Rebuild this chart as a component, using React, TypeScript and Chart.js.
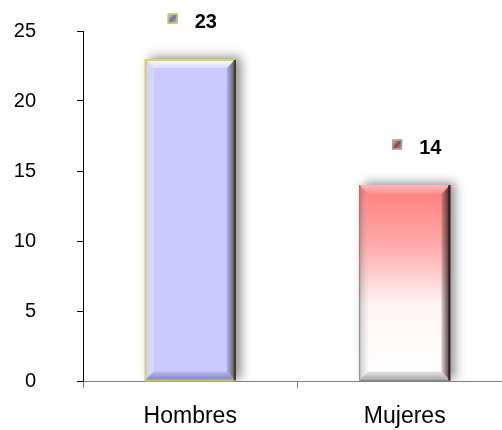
import React, { useEffect, useRef } from "react";
import { Chart, registerables } from "chart.js";

Chart.register(...registerables);

const categories = ["Hombres", "Mujeres"];
const values = [23, 14];
const yTicks = [0, 5, 10, 15, 20, 25];

const FONT = "'Liberation Sans', Arial, Helvetica, sans-serif";

const shadowPlugin = {
  id: "barShadow",
  beforeDatasetsDraw(chart: any) {
    const ctx = chart.ctx;
    ctx.save();
    ctx.shadowColor = "rgba(0,0,0,0.45)";
    ctx.shadowBlur = 10;
    ctx.shadowOffsetX = 5;
    ctx.shadowOffsetY = -2;
  },
  afterDatasetsDraw(chart: any) {
    chart.ctx.restore();
  },
};

function poly(ctx: CanvasRenderingContext2D, pts: number[][], fill: any) {
  ctx.beginPath();
  ctx.moveTo(pts[0][0], pts[0][1]);
  for (let i = 1; i < pts.length; i++) ctx.lineTo(pts[i][0], pts[i][1]);
  ctx.closePath();
  ctx.fillStyle = fill;
  ctx.fill();
}

const bevelPlugin = {
  id: "bevel",
  afterDatasetsDraw(chart: any) {
    const ctx: CanvasRenderingContext2D = chart.ctx;
    const meta = chart.getDatasetMeta(0);
    meta.data.forEach((bar: any, i: number) => {
      const w = bar.width;
      const l = bar.x - w / 2;
      const r = bar.x + w / 2;
      const t = bar.y;
      const b = bar.base;
      const bv = 9;
      ctx.save();
      let g = ctx.createLinearGradient(0, t, 0, t + bv);
      g.addColorStop(0, i === 0 ? "rgba(255,255,255,0.95)" : "rgba(255,255,255,0.45)");
      g.addColorStop(1, i === 0 ? "rgba(255,255,255,0.35)" : "rgba(255,255,255,0.1)");
      poly(ctx, [[l, t], [r, t], [r - bv, t + bv], [l + bv, t + bv]], g);
      g = ctx.createLinearGradient(l, 0, l + bv, 0);
      if (i === 0) {
        g.addColorStop(0, "rgba(255,255,255,0.1)");
        g.addColorStop(1, "rgba(255,255,255,0.3)");
      } else {
        g.addColorStop(0, "rgba(90,90,90,0.35)");
        g.addColorStop(1, "rgba(200,200,200,0.1)");
      }
      poly(ctx, [[l, t], [l + bv, t + bv], [l + bv, b - bv], [l, b]], g);
      g = ctx.createLinearGradient(r - bv, 0, r, 0);
      if (i === 0) {
        g.addColorStop(0, "rgba(90,90,160,0.25)");
        g.addColorStop(1, "rgba(50,50,20,0.85)");
      } else {
        g.addColorStop(0, "rgba(80,40,40,0.2)");
        g.addColorStop(1, "rgba(40,20,20,0.9)");
      }
      poly(ctx, [[r, t], [r, b], [r - bv, b - bv], [r - bv, t + bv]], g);
      g = ctx.createLinearGradient(0, b - bv, 0, b);
      if (i === 0) {
        g.addColorStop(0, "rgba(80,80,150,0.15)");
        g.addColorStop(1, "rgba(70,70,130,0.55)");
      } else {
        g.addColorStop(0, "rgba(90,90,90,0.15)");
        g.addColorStop(1, "rgba(90,90,90,0.55)");
      }
      poly(ctx, [[l, b], [l + bv, b - bv], [r - bv, b - bv], [r, b]], g);
      ctx.lineWidth = 2;
      if (i === 0) {
        ctx.strokeStyle = "#D6D65A";
        ctx.beginPath();
        ctx.moveTo(l + 1, b);
        ctx.lineTo(l + 1, t + 1);
        ctx.lineTo(r - 1, t + 1);
        ctx.stroke();
        ctx.strokeStyle = "#C8C86A";
        ctx.beginPath();
        ctx.moveTo(l, b);
        ctx.lineTo(r, b);
        ctx.stroke();
        ctx.strokeStyle = "#3E3E18";
        ctx.beginPath();
        ctx.moveTo(r - 1, t + 1);
        ctx.lineTo(r - 1, b);
        ctx.stroke();
      } else {
        ctx.strokeStyle = "rgba(120,120,120,0.8)";
        ctx.lineWidth = 1;
        ctx.beginPath();
        ctx.moveTo(l + 0.5, t);
        ctx.lineTo(l + 0.5, b);
        ctx.lineTo(r, b);
        ctx.stroke();
        ctx.strokeStyle = "#3A2020";
        ctx.lineWidth = 2;
        ctx.beginPath();
        ctx.moveTo(r - 1, t);
        ctx.lineTo(r - 1, b);
        ctx.stroke();
      }
      ctx.restore();
    });
  },
};

const labelOffsetX = [2, 12];

const labelPlugin = {
  id: "valueLabels",
  afterDatasetsDraw(chart: any) {
    const ctx: CanvasRenderingContext2D = chart.ctx;
    const meta = chart.getDatasetMeta(0);
    const data = chart.data.datasets[0].data;
    meta.data.forEach((bar: any, i: number) => {
      const text = String(data[i]);
      ctx.save();
      ctx.font = `bold 20px ${FONT}`;
      const tw = ctx.measureText(text).width;
      const icon = 10;
      const gap = 17;
      const total = icon + gap + tw;
      const sx = bar.x + labelOffsetX[i] - total / 2;
      const cy = bar.y - 37.5;
      const ix = sx;
      const iy = cy - icon / 2 - 3;
      const g = ctx.createLinearGradient(ix, iy, ix + icon, iy + icon);
      if (i === 0) {
        g.addColorStop(0, "#E8E8FF");
        g.addColorStop(0.5, "#7070A0");
        g.addColorStop(1, "#C8CAFF");
      } else {
        g.addColorStop(0, "#FFE0E0");
        g.addColorStop(0.5, "#904040");
        g.addColorStop(1, "#FF9090");
      }
      ctx.fillStyle = g;
      ctx.fillRect(ix, iy, icon, icon);
      ctx.lineWidth = 1.5;
      ctx.strokeStyle = i === 0 ? "#C8C840" : "#A0A0A0";
      ctx.strokeRect(ix + 0.75, iy + 0.75, icon - 1.5, icon - 1.5);
      ctx.fillStyle = "#000";
      ctx.textAlign = "left";
      ctx.textBaseline = "middle";
      ctx.fillText(text, sx + icon + gap, cy + 1);
      ctx.restore();
    });
  },
};

export default function App() {
  const ref = useRef<HTMLCanvasElement>(null);
  useEffect(() => {
    if (!ref.current) return;
    Chart.defaults.font.family = FONT;
    const chart = new Chart(ref.current, {
      type: "bar",
      data: {
        labels: categories,
        datasets: [
          {
            data: values,
            barPercentage: 0.425,
            categoryPercentage: 1,
            borderWidth: 0,
            backgroundColor: (c: any) => {
              const idx = c.dataIndex;
              if (idx === 0) return "#C8CAFF";
              const ch = c.chart;
              const ys = ch.scales && ch.scales.y;
              if (!ys) return "#FF8080";
              const top = ys.getPixelForValue(values[idx]);
              const base = ys.getPixelForValue(0);
              const g = ch.ctx.createLinearGradient(0, top, 0, base);
              g.addColorStop(0, "#FF7C7C");
              g.addColorStop(0.3, "#FFA8A8");
              g.addColorStop(0.62, "#FFF6F6");
              g.addColorStop(1, "#FFFFFF");
              return g;
            },
          },
        ],
      },
      options: {
        responsive: false,
        animation: false,
        devicePixelRatio: 1,
        layout: { padding: { top: 31, left: 0, right: 0, bottom: 0 } },
        plugins: {
          legend: { display: false },
          tooltip: { enabled: false },
        },
        scales: {
          x: {
            type: "category",
            grid: {
              drawOnChartArea: false,
              offset: true,
              tickLength: 7,
              color: "#808080",
            },
            border: { color: "#808080", width: 1 },
            ticks: {
              color: "#000",
              font: { size: 23, family: FONT },
              padding: 15,
            },
            afterFit: (s: any) => {
              s.height = 49;
            },
          },
          y: {
            min: 0,
            max: 25,
            afterBuildTicks: (s: any) => {
              s.ticks = yTicks.map((v) => ({ value: v }));
            },
            grid: {
              drawOnChartArea: false,
              tickLength: 6,
              color: "#000",
            },
            border: { color: "#000", width: 1 },
            ticks: {
              color: "#000",
              font: { size: 20, family: FONT },
              padding: 41,
            },
            afterFit: (s: any) => {
              s.width = 83;
              s.paddingTop = 0;
              s.paddingBottom = 0;
            },
          },
        },
      },
      plugins: [shadowPlugin, bevelPlugin, labelPlugin],
    } as any);
    return () => chart.destroy();
  }, []);
  return (
    <div
      style={{
        position: "fixed",
        left: 0,
        top: 0,
        width: 502,
        height: 430,
        overflow: "hidden",
        background: "#fff",
      }}
    >
      <canvas ref={ref} width={512} height={430} style={{ display: "block" }} />
    </div>
  );
}
